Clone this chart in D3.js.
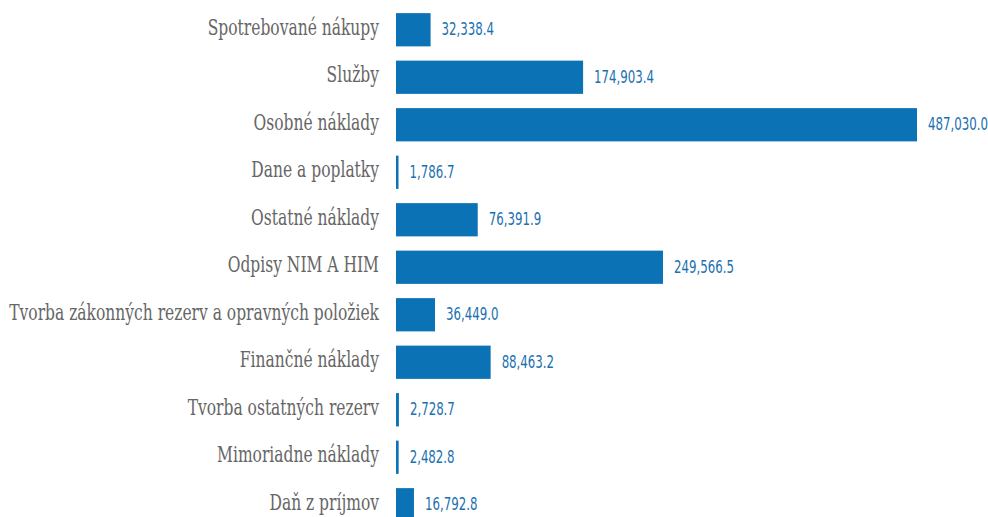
<!DOCTYPE html>
<html><head><meta charset="utf-8">
<script src="https://cdn.jsdelivr.net/npm/d3@7"></script>
<style>body{margin:0;background:#fff}</style>
</head><body>
<svg id="c" width="988" height="517"></svg>
<script>
const categories = ["Spotrebované nákupy","Služby","Osobné náklady","Dane a poplatky","Ostatné náklady","Odpisy NIM A HIM","Tvorba zákonných rezerv a opravných položiek","Finančné náklady","Tvorba ostatných rezerv","Mimoriadne náklady","Daň z príjmov"];
const values = [32338.4,174903.4,487030.0,1786.7,76391.9,249566.5,36449.0,88463.2,2728.7,2482.8,16792.8];

const svg = d3.select("#c");
const x = d3.scaleLinear().domain([0, 487030]).range([396, 917]);
const y = d3.scaleBand().domain(categories).range([6, 528.5]).paddingInner(0.3).paddingOuter(0.15);
const fmt = d3.format(",.1f");

svg.selectAll("rect").data(values).join("rect")
  .attr("x", x(0)).attr("y", (d,i)=>y(categories[i]))
  .attr("width", d=>Math.max(2.5, x(d)-x(0))).attr("height", y.bandwidth())
  .attr("fill", "#0b72b5");

const cat = svg.selectAll("text.cat").data(categories).join("text")
  .attr("class","cat")
  .attr("font-family","DejaVu Serif Condensed")
  .attr("font-size",22).attr("fill","#666")
  .attr("text-anchor","end").attr("dominant-baseline","central")
  .text(d=>d);
let maxW = d3.max(cat.nodes(), n=>n.getComputedTextLength());
const kc = 370 / maxW;
cat.attr("transform", d=>`translate(379,${y(d)+y.bandwidth()/2 - 2}) scale(${kc},1)`);

const val = svg.selectAll("text.val").data(values).join("text")
  .attr("class","val")
  .attr("font-family","DejaVu Sans Condensed")
  .attr("font-size",17).attr("fill","#1a70b0")
  .attr("dominant-baseline","central")
  .text(d=>fmt(d));
const w0 = val.nodes()[2].getComputedTextLength();
const kv = 60 / w0;
val.attr("transform", (d,i)=>`translate(${x(0)+Math.max(2.5,x(d)-x(0))+11},${y(categories[i])+y.bandwidth()/2}) scale(${kv},1)`);
</script>
</body></html>
